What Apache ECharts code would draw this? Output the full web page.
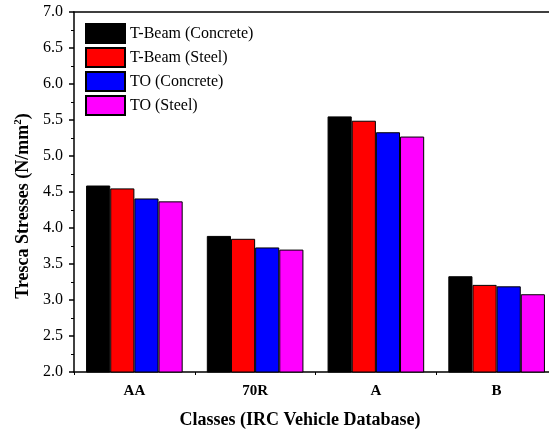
<!DOCTYPE html>
<html>
<head>
<meta charset="utf-8">
<script src="https://cdn.jsdelivr.net/npm/echarts@6/dist/echarts.min.js"></script>
<style>html,body{margin:0;padding:0;background:#fff}#c{width:549px;height:432px}</style>
</head>
<body>
<div id="c"></div>
<script>
const categories = ['AA', '70R', 'A', 'B'];
const seriesNames = ['T-Beam (Concrete)', 'T-Beam (Steel)', 'TO (Concrete)', 'TO (Steel)'];
const tBeamConcrete = [4.59, 3.89, 5.55, 3.33];
const tBeamSteel = [4.55, 3.85, 5.49, 3.21];
const toConcrete = [4.41, 3.73, 5.33, 3.19];
const toSteel = [4.37, 3.70, 5.27, 3.08];
const colors = ['#000000', '#ff0000', '#0000ff', '#ff00ff'];
const yMin = 2.0, yMax = 7.0, yStep = 0.5;

const font = 'Liberation Serif';
const values = [tBeamConcrete, tBeamSteel, toConcrete, toSteel];
const chart = echarts.init(document.getElementById('c'), null, {renderer: 'canvas'});
chart.setOption({
  animation: false,
  backgroundColor: '#ffffff',
  textStyle: {fontFamily: font},
  grid: {left: 74, right: -8, top: 12, bottom: 60, containLabel: false, outerBoundsMode: 'none'},
  legend: {
    orient: 'vertical', left: 85, top: 23, padding: 0,
    itemWidth: 39, itemHeight: 19, itemGap: 3,
    icon: 'rect',
    textStyle: {fontFamily: font, fontSize: 16, color: '#000'},
    data: seriesNames
  },
  xAxis: [{
    type: 'category', data: categories, position: 'bottom',
    axisLine: {lineStyle: {color: '#000', width: 1.5}},
    axisTick: {alignWithLabel: true, length: 5, lineStyle: {color: '#000', width: 1.5}},
    axisLabel: {fontFamily: font, fontSize: 15, fontWeight: 'bold', color: '#000', margin: 12},
    splitLine: {show: false}
  }, {
    type: 'category', data: categories, position: 'bottom', gridIndex: 0,
    axisLine: {show: false},
    axisTick: {show: true, alignWithLabel: false, length: 3, lineStyle: {color: '#000', width: 1}},
    axisLabel: {show: false}
  }, {
    type: 'category', data: categories, position: 'top',
    axisLine: {lineStyle: {color: '#000', width: 1.5}},
    axisTick: {show: false}, axisLabel: {show: false}
  }],
  yAxis: {
    type: 'value', min: yMin, max: yMax, interval: yStep,
    axisLine: {show: true, lineStyle: {color: '#000', width: 1.5}},
    axisTick: {show: true, inside: false, length: 5, lineStyle: {color: '#000', width: 1.5}},
    minorTick: {show: true, splitNumber: 2, length: 3, lineStyle: {color: '#000', width: 1}},
    axisLabel: {fontFamily: font, fontSize: 16, color: '#000', margin: 11, formatter: v => v.toFixed(1)},
    splitLine: {show: false}
  },
  graphic: [{
    type: 'text', x: 23, y: 206, rotation: Math.PI / 2,
    style: {
      text: '{a|Tresca Stresses (N/mm}{s|2}{a|)}',
      align: 'center', verticalAlign: 'middle',
      rich: {
        a: {fontFamily: font, fontSize: 18, fontWeight: 'bold', fill: '#000'},
        s: {fontFamily: font, fontSize: 11, fontWeight: 'bold', fill: '#000', verticalAlign: 'top', padding: [0, 0, 9, 0]}
      }
    }
  }, {
    type: 'text', x: 300, y: 420,
    style: {text: 'Classes (IRC Vehicle Database)', font: 'bold 18px "Liberation Serif"', fill: '#000', align: 'center', verticalAlign: 'middle'}
  }],
  series: seriesNames.map((n, i) => ({
    name: n, type: 'bar', xAxisIndex: 0,
    data: values[i],
    barGap: '0%', barCategoryGap: '20%',
    itemStyle: {color: colors[i], borderColor: '#000', borderWidth: 1}
  }))
});
</script>
</body>
</html>
